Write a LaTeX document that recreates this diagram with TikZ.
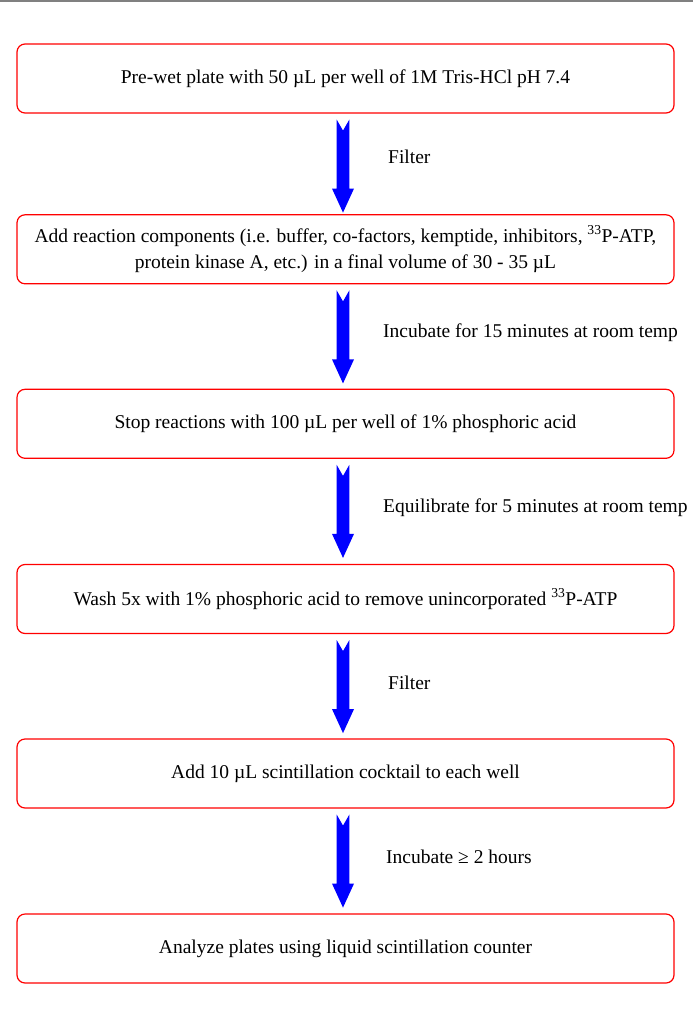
\documentclass[tikz,border=0pt]{standalone}
\usepackage{fontspec}
\setmainfont{Liberation Serif}

\begin{document}
\begin{tikzpicture}[x=1pt,y=-1pt,
	stepbox/.style={draw=red, line width=1.2pt, rounded corners=8pt, minimum width=657pt, minimum height=69pt, inner sep=0pt, align=center, font=\fontsize{19.5}{26}\selectfont},
	flow/.style={fill=blue},
	lbl/.style={anchor=west, inner sep=0pt, font=\fontsize{19.5}{26}\selectfont}]
	\useasboundingbox (0,0) rectangle (693,1017);
	\draw[gray, line width=1.5pt] (0,1) -- (693,1);
	% steps
	\node[stepbox] (s1) at (345.5,78.5) {Pre-wet plate with 50 µL per well of 1M Tris-HCl pH 7.4};
	\node[stepbox] (s2) at (345.5,249.3) {Add reaction components (i.e. buffer, co-factors, kemptide, inhibitors, \textsuperscript{33}P-ATP,\\ protein kinase A, etc.) in a final volume of 30 - 35 µL};
	\node[stepbox] (s3) at (345.5,423.8) {Stop reactions with 100 µL per well of 1\% phosphoric acid};
	\node[stepbox] (s4) at (345.5,599) {Wash 5x with 1\% phosphoric acid to remove unincorporated \textsuperscript{33}P-ATP};
	\node[stepbox] (s5) at (345.5,773.5) {Add 10 µL scintillation cocktail to each well};
	\node[stepbox] (s6) at (345.5,948.5) {Analyze plates using liquid scintillation counter};
	% notched arrows below each step
	\foreach \a in {s1,s2,s3,s4,s5}
		\fill[flow] ([shift={(-8.8,6)}]\a.south) -- ++(6.3,11) -- ++(6.3,-11) -- ++(0,69) -- ++(4.7,0) -- ++(-11,24) -- ++(-11,-24) -- ++(4.7,0) -- cycle;
	% labels
	\node[lbl] (l1) at (388,157) {Filter};
	\node[lbl] (l2) at (383,333) {Incubate for 15 minutes at room temp};
	\node[lbl] (l3) at (383,508) {Equilibrate for 5 minutes at room temp};
	\node[lbl] (l4) at (388,683) {Filter};
	\node[lbl] (l5) at (386,857) {Incubate ≥ 2 hours};
\end{tikzpicture}
\end{document}
